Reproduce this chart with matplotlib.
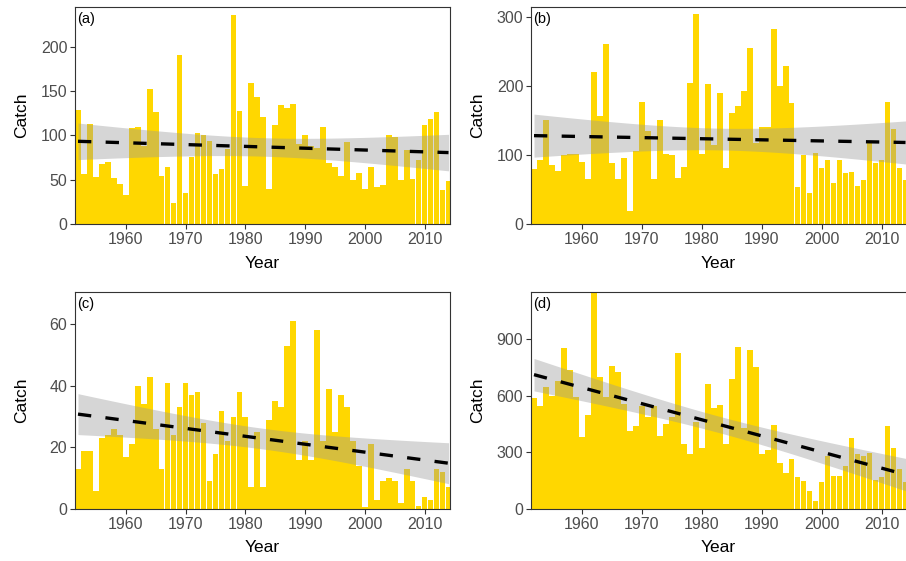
import numpy as np
import matplotlib.pyplot as plt

plt.rcParams['font.family'] = ['Liberation Sans', 'DejaVu Sans']

years = np.arange(1952, 2015)

catch_a = [129, 57, 113, 53, 68, 70, 52, 45, 33, 108,
           110, 88, 152, 127, 54, 64, 24, 191, 35, 76,
           103, 100, 94, 56, 62, 85, 236, 128, 43, 159,
           143, 121, 40, 112, 134, 131, 136, 90, 100, 88,
           86, 109, 69, 64, 54, 93, 50, 58, 40, 64,
           42, 44, 100, 98, 50, 84, 51, 72, 112, 119,
           126, 38, 48]

catch_b = [80, 92, 150, 86, 77, 100, 102, 102, 90, 65,
           220, 156, 261, 88, 65, 96, 19, 106, 177, 134,
           65, 151, 102, 100, 66, 82, 204, 304, 102, 203,
           115, 190, 81, 161, 171, 192, 255, 117, 141, 141,
           282, 199, 228, 175, 53, 100, 45, 103, 81, 92,
           59, 93, 74, 75, 55, 64, 117, 88, 93, 177,
           137, 81, 64]

catch_c = [13, 19, 19, 6, 23, 24, 26, 24, 17, 21,
           40, 34, 43, 26, 13, 41, 24, 33, 41, 37,
           38, 28, 9, 18, 32, 22, 30, 38, 30, 7,
           25, 7, 29, 35, 33, 53, 61, 16, 22, 16,
           58, 22, 39, 25, 37, 33, 22, 14, 0.5, 21,
           3, 9, 10, 9, 2, 13, 9, 1, 4, 3,
           13, 12, 7]

catch_d = [586, 547, 648, 600, 679, 852, 736, 591, 379, 498,
           1160, 697, 595, 760, 725, 559, 415, 438, 547, 485,
           545, 388, 450, 490, 828, 347, 291, 460, 323, 663,
           533, 550, 344, 688, 858, 427, 842, 755, 291, 314,
           446, 243, 192, 265, 171, 148, 95, 44, 143, 279,
           176, 176, 229, 376, 291, 282, 296, 152, 169, 441,
           321, 210, 145]

labels = ['(a)', '(b)', '(c)', '(d)']
series = [catch_a, catch_b, catch_c, catch_d]
y_tops = [245, 314, 70.5, 1150]
y_ticks = [[0, 50, 100, 150, 200], [0, 100, 200, 300],
           [0, 20, 40, 60], [0, 300, 600, 900]]
x_ticks = [1960, 1970, 1980, 1990, 2000, 2010]

W, H = 906, 561
fig = plt.figure(figsize=(W / 100, H / 100), dpi=100)

# panel boxes in pixels: left, top, width, height
boxes = [(75, 7, 375, 217), (531, 7, 376, 217),
         (75, 292, 375, 217), (531, 292, 376, 217)]

for i in range(4):
    l, t, w, h = boxes[i]
    ax = fig.add_axes([l / W, 1 - (t + h) / H, w / W, h / H])
    y = np.array(series[i], dtype=float)

    ax.bar(years, y, width=0.95, color='#FFD700', zorder=1)

    # linear fit with 95% confidence band
    x = years.astype(float)
    b, a = np.polyfit(x, y, 1)
    n = len(x)
    resid = y - (a + b * x)
    s = np.sqrt(np.sum(resid ** 2) / (n - 2))
    xx = np.linspace(x.min(), x.max(), 100)
    se = s * np.sqrt(1 / n + (xx - x.mean()) ** 2 / np.sum((x - x.mean()) ** 2))
    fit = a + b * xx
    ax.fill_between(xx, fit - 2.0 * se, fit + 2.0 * se, color='#999999',
                    alpha=0.4, lw=0, zorder=2)
    ax.plot(xx, fit, color='black', lw=2.4, ls=(0, (4, 4.3)),
            dash_capstyle='butt', zorder=3)

    ax.set_xlim(1951.5, 2014.25)
    ax.set_ylim(0, y_tops[i])
    ax.set_xticks(x_ticks)
    ax.set_yticks(y_ticks[i])
    ax.tick_params(colors='#333333', labelcolor='#4D4D4D', labelsize=11.5,
                   length=3.5, width=0.8, pad=2)
    for sp in ax.spines.values():
        sp.set_color('#333333')
        sp.set_linewidth(0.8)

    ax.text(0.006, 0.978, labels[i], transform=ax.transAxes, ha='left',
            va='top', fontsize=10.5, color='black')

    fig.text((l - 53) / W, 1 - (t + h / 2) / H, 'Catch', rotation=90,
             ha='center', va='center', fontsize=12.5)
    fig.text((l + 187.5) / W, 1 - (t + h + 39) / H, 'Year',
             ha='center', va='center', fontsize=12.5)

fig.savefig('out.png', dpi=100)
